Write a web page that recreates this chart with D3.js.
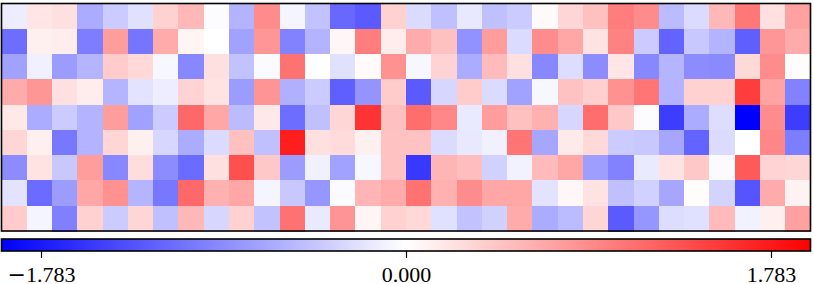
<!DOCTYPE html>
<html>
<head>
<meta charset="utf-8">
<script src="https://cdn.jsdelivr.net/npm/d3@7"></script>
<style>
    html, body { margin: 0; padding: 0; background: #fff; overflow: hidden; }
    svg { display: block; }
    .tick text { font-family: "Liberation Serif", serif; font-size: 22px; fill: #000; }
    .tick line { stroke: #000; stroke-width: 1.2px; }
    .minus { font-family: "DejaVu Serif", serif; }
</style>
</head>
<body>
<div id="chart"></div>
<script>
// values, one array per row
var row0 = [-0.14, 0.20, 0.24, -0.65, -0.40, -0.24, 0.36, 0.55, -0.02, -0.59, 0.89, -0.08, -0.47, -1.17, -1.28, 0.36, -0.28, -0.49, -0.18, -0.49, -0.40, 0.04, 0.32, 0.49, 1.01, 0.89, -0.53, -0.28, 0.55, 1.05, 0.24, 0.73];
var row1 = [-1.13, 0.12, 0.14, -1.01, 0.77, -1.07, 0.65, 0.08, 0.00, -0.73, 0.81, -0.97, -0.59, 0.06, 1.01, 0.14, 0.65, 0.49, -0.85, 0.77, -0.28, 0.89, 0.69, 0.22, 0.97, -0.40, -1.21, -0.43, -0.59, -1.24, 0.81, 0.65];
var row2 = [-0.73, -0.12, -0.77, -0.57, 0.40, 0.30, -0.06, -0.93, 0.24, -0.47, -0.04, 1.09, 0.00, -0.24, 0.03, 0.85, -0.06, 0.34, -0.65, 0.53, 0.24, -0.93, -0.26, -0.89, 0.20, -0.93, -0.57, -0.89, -0.91, 0.30, 0.89, 0.02];
var row3 = [0.65, 0.81, 0.24, 0.14, -0.57, -0.22, -0.14, 0.34, 0.22, -0.77, 0.83, -0.61, -0.40, -1.24, -0.83, 0.40, -1.28, -0.32, 0.40, -0.28, -0.73, -0.06, 0.47, 0.38, 0.85, 1.07, -0.59, 0.36, 0.36, 1.50, 0.71, -0.97];
var row4 = [0.18, -0.65, -0.40, -0.59, 0.77, -0.73, -0.40, 1.17, 0.69, -0.53, 0.18, -1.13, -0.49, 0.32, 1.58, 0.49, 1.13, 0.93, -0.16, 0.77, 0.49, 0.61, -0.32, 1.13, 0.43, -0.02, -1.50, -0.65, -0.26, -1.976, 0.89, -1.50];
var row5 = [0.32, 0.12, -1.05, -0.59, 0.32, 0.12, -0.32, -0.65, -0.28, 0.49, -0.49, 1.74, 0.24, 0.28, 0.12, 0.47, 0.47, -0.28, -0.18, -0.12, 1.07, -0.69, 0.16, 0.30, -0.40, -0.43, -0.69, -1.21, -0.28, 0.00, 0.93, -1.01];
var row6 = [-0.89, 0.22, -0.43, 0.77, -0.93, 0.26, -0.89, -1.15, 0.24, 1.36, 0.43, -0.77, -0.12, -0.73, -0.06, 0.47, -1.54, 0.57, 0.51, -0.36, -0.10, 0.53, 0.69, -0.75, -0.97, -0.16, 0.22, 0.43, -0.04, 1.28, 0.34, 0.32];
var row7 = [-0.22, -1.15, -0.77, 0.69, 0.85, -0.57, -1.05, 1.17, 0.61, 0.69, -0.08, -0.43, -0.81, -0.04, 0.57, 0.65, 1.09, 0.61, 0.89, 0.69, 0.69, -0.22, 0.06, 0.22, -0.49, -0.36, -0.69, 0.02, -0.34, -1.32, 0.65, 0.10];
var row8 = [0.40, -0.08, -0.99, 0.36, -0.40, 0.32, -0.49, 0.55, -0.32, 0.36, -0.47, 1.09, -0.16, 0.83, 0.08, 0.36, 0.30, -0.24, -0.47, -0.36, 0.65, -0.65, -0.53, 0.32, -1.28, -0.81, -0.26, -0.24, 0.53, -0.10, 0.12, 0.73];
var rows = [row0, row1, row2, row3, row4, row5, row6, row7, row8];

var colorLimit = 1.976;
var tickValues = [-1.783, 0, 1.783];

var svgWidth = 814;
var svgHeight = 284;

var svg = d3.select("#chart").append("svg")
    .attr("width", svgWidth)
    .attr("height", svgHeight);

// heatmap position
var left = 1.5;
var right = 810.5;
var heatTop = 3.5;
var heatBottom = 231;
// colorbar position
var barTop = 239;
var barBottom = 251;

var colorScale = d3.scaleLinear()
    .domain([-colorLimit, 0, colorLimit])
    .range(["#0000ff", "#ffffff", "#ff0000"]);

var xScale = d3.scaleBand()
    .domain(d3.range(row0.length))
    .range([left, right]);

var yScale = d3.scaleBand()
    .domain(d3.range(rows.length))
    .range([heatTop, heatBottom]);

var rowGroups = svg.append("g").selectAll("g")
    .data(rows)
    .enter()
    .append("g")
    .attr("transform", (d, i) => `translate(0, ${yScale(i)})`);

rowGroups.selectAll("rect")
    .data(d => d)
    .enter()
    .append("rect")
    .attr("x", (d, i) => xScale(i))
    .attr("width", xScale.bandwidth() + 0.5)
    .attr("height", yScale.bandwidth() + 0.5)
    .attr("shape-rendering", "crispEdges")
    .attr("fill", d => colorScale(d));

svg.append("rect")
    .attr("x", left)
    .attr("y", heatTop)
    .attr("width", right - left)
    .attr("height", heatBottom - heatTop)
    .attr("fill", "none")
    .attr("stroke", "#000")
    .attr("stroke-width", 1.6);

// colorbar
var gradient = svg.append("defs").append("linearGradient")
    .attr("id", "colorbar");

gradient.selectAll("stop")
    .data(colorScale.domain())
    .enter()
    .append("stop")
    .attr("offset", (d, i) => i / 2)
    .attr("stop-color", d => colorScale(d));

svg.append("rect")
    .attr("x", left)
    .attr("y", barTop)
    .attr("width", right - left)
    .attr("height", barBottom - barTop)
    .attr("fill", "url(#colorbar)")
    .attr("stroke", "#000")
    .attr("stroke-width", 1.6);

var barScale = d3.scaleLinear()
    .domain([-colorLimit, colorLimit])
    .range([left, right]);

var barAxis = d3.axisBottom(barScale)
    .tickValues(tickValues)
    .tickFormat(d3.format(".3f"))
    .tickSize(7)
    .tickPadding(8.5);

var axisGroup = svg.append("g")
    .attr("transform", `translate(0, ${barBottom})`)
    .call(barAxis);

axisGroup.select(".domain").remove();

// the minus sign is wider in the original, give it its own font
axisGroup.selectAll(".tick text")
    .filter(d => d < 0)
    .each(function() {
        var label = d3.select(this);
        var digits = label.text().slice(1);
        label.text(null);
        label.append("tspan").attr("class", "minus").text("\u2212");
        label.append("tspan").text(digits);
    });
</script>
</body>
</html>
